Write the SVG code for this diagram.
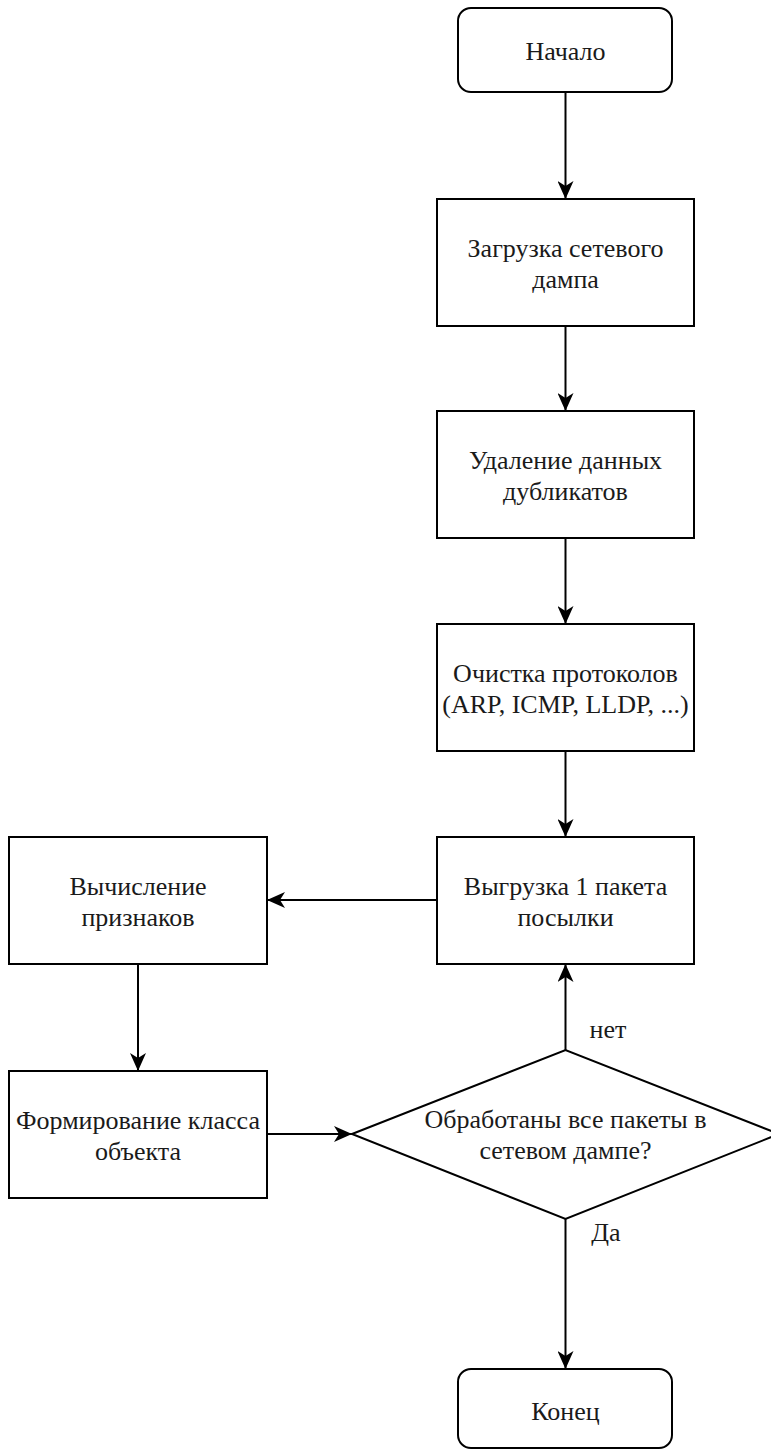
<svg xmlns="http://www.w3.org/2000/svg" width="771" height="1450" viewBox="0 0 771 1450">
<style>
.box{fill:#fff;stroke:#000;stroke-width:2}
.t{font-family:"Liberation Serif","Times New Roman",serif;font-size:26px;fill:#1a1a1a;text-anchor:middle}
.c{fill:none;stroke:#000;stroke-width:2}
</style>
<defs>
<marker id="arr" viewBox="0 0 18 16" refX="18" refY="8" markerWidth="18" markerHeight="16" markerUnits="userSpaceOnUse" orient="auto">
<path d="M0,0 L18,8 L0,16 L5,8 Z" fill="#000"/>
</marker>
</defs>
<rect width="771" height="1450" fill="#fff"/>
<g id="connectors">
<line class="c" x1="565.5" y1="92" x2="565.5" y2="199" marker-end="url(#arr)"/>
<line class="c" x1="565.5" y1="326" x2="565.5" y2="411" marker-end="url(#arr)"/>
<line class="c" x1="565.5" y1="538" x2="565.5" y2="624" marker-end="url(#arr)"/>
<line class="c" x1="565.5" y1="751" x2="565.5" y2="837" marker-end="url(#arr)"/>
<line class="c" x1="437" y1="900" x2="267" y2="900" marker-end="url(#arr)"/>
<line class="c" x1="138" y1="964" x2="138" y2="1071" marker-end="url(#arr)"/>
<line class="c" x1="267" y1="1134" x2="352" y2="1134" marker-end="url(#arr)"/>
<line class="c" x1="565.5" y1="1050" x2="565.5" y2="964" marker-end="url(#arr)"/>
<line class="c" x1="565.5" y1="1219" x2="565.5" y2="1369" marker-end="url(#arr)"/>
<text class="t" x="608" y="1038">нет</text>
<text class="t" x="606" y="1241">Да</text>
</g>
<g id="start">
<rect class="box" x="458" y="8" width="214" height="84" rx="13"/>
<text class="t" x="565.5" y="60">Начало</text>
</g>
<g id="load">
<rect class="box" x="437" y="199" width="257" height="127"/>
<text class="t" x="565.5" y="257">Загрузка сетевого</text>
<text class="t" x="565.5" y="288">дампа</text>
</g>
<g id="dedup">
<rect class="box" x="437" y="411" width="257" height="127"/>
<text class="t" x="565.5" y="469">Удаление данных</text>
<text class="t" x="565.5" y="500">дубликатов</text>
</g>
<g id="clean">
<rect class="box" x="437" y="624" width="257" height="127"/>
<text class="t" x="565.5" y="682">Очистка протоколов</text>
<text class="t" x="565.5" y="713">(ARP, ICMP, LLDP, ...)</text>
</g>
<g id="unload">
<rect class="box" x="437" y="837" width="257" height="127"/>
<text class="t" x="565.5" y="895">Выгрузка 1 пакета</text>
<text class="t" x="565.5" y="926">посылки</text>
</g>
<g id="features">
<rect class="box" x="9" y="837" width="258" height="127"/>
<text class="t" x="138" y="895">Вычисление</text>
<text class="t" x="138" y="926">признаков</text>
</g>
<g id="classify">
<rect class="box" x="9" y="1071" width="258" height="127"/>
<text class="t" x="138" y="1129">Формирование класса</text>
<text class="t" x="138" y="1160">объекта</text>
</g>
<g id="decision">
<polygon class="box" points="352,1134 565.5,1050 779,1134 565.5,1219"/>
<text class="t" x="565.5" y="1128">Обработаны все пакеты в</text>
<text class="t" x="565.5" y="1159">сетевом дампе?</text>
</g>
<g id="end">
<rect class="box" x="458" y="1369" width="214" height="79" rx="13"/>
<text class="t" x="565.5" y="1420">Конец</text>
</g>
</svg>
